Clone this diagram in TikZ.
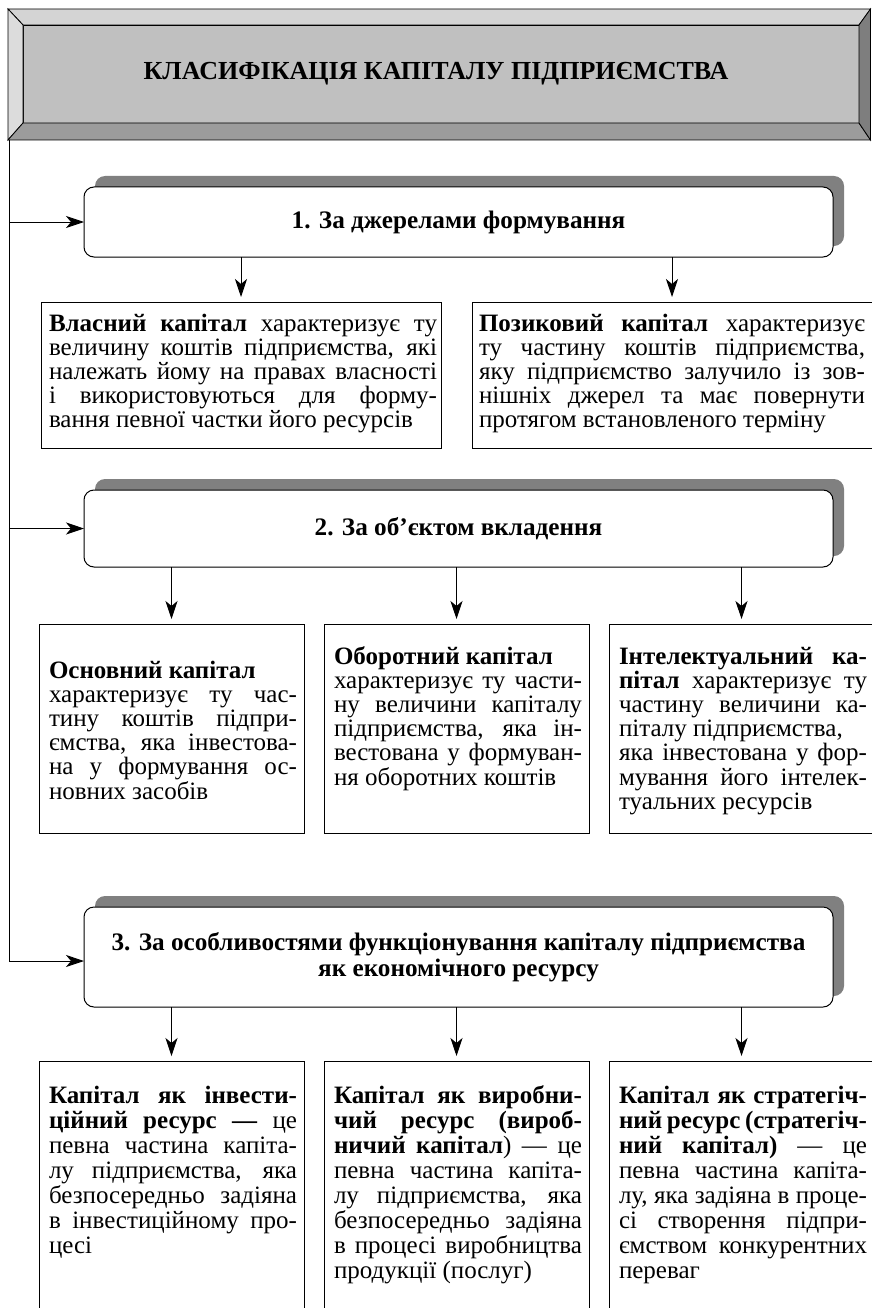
\documentclass[tikz,border=0pt]{standalone}
\usepackage{fontspec}
\setmainfont{Liberation Serif}
\usetikzlibrary{arrows.meta,shadows}
\definecolor{shgray}{HTML}{808080}
\definecolor{face}{HTML}{C0C0C0}
\definecolor{bvtop}{HTML}{D4D4D4}
\definecolor{bvleft}{HTML}{DCDCDC}
\definecolor{bvbot}{HTML}{9C9C9C}
\definecolor{bvright}{HTML}{7E7E7E}
\newcommand\jl[1]{\hbox to\hsize{#1}}
\newcommand\nl[1]{\hbox{#1}}
\newcommand\para[2]{\vtop{\hsize=#1\relax\parindent=0pt #2}}
\begin{document}
\begin{tikzpicture}[x=1pt,y=-1pt,
  box/.style={draw=black, line width=1pt, fill=white, inner sep=0pt, outer sep=0pt, anchor=north west},
  rbox/.style={draw=black, line width=1pt, fill=white, rounded corners=10pt, inner sep=0pt, outer sep=0pt,
    anchor=north west, general shadow={fill=shgray, shadow xshift=11pt, shadow yshift=11pt},
    font=\fontsize{25.2}{26}\selectfont\bfseries, align=center},
  body/.style={inner sep=0pt, outer sep=0pt, anchor=base west, font=\fontsize{25}{24.2}\selectfont},
  bodyb/.style={body, font=\fontsize{25}{25}\selectfont},
  arr/.style={line width=0.9pt, -{Stealth[length=18pt,width=12pt,inset=5pt]}},
  bev/.style={draw=black, line width=0.8pt},
]
\path[use as bounding box] (0,0) rectangle (871,1308);

% ---- title bevel box
\coordinate (onw) at (8,9);
\coordinate (one) at (870.5,9);
\coordinate (ose) at (870.5,140);
\coordinate (osw) at (8,140);
\node[draw=black, line width=0.8pt, fill=face, minimum width=836pt, minimum height=98pt,
      inner sep=0pt, outer sep=0pt, anchor=north west,
      font=\fontsize{26}{28}\selectfont\bfseries] (title) at (23,25) {\hspace*{-10pt}КЛАСИФІКАЦІЯ КАПІТАЛУ ПІДПРИЄМСТВА};
\filldraw[bev, fill=bvtop] (onw) -- (one) -- (title.north east) -- (title.north west) -- cycle;
\filldraw[bev, fill=bvleft] (onw) -- (title.north west) -- (title.south west) -- (osw) -- cycle;
\filldraw[bev, fill=bvbot] (osw) -- (title.south west) -- (title.south east) -- (ose) -- cycle;
\filldraw[bev, fill=bvright] (one) -- (ose) -- (title.south east) -- (title.north east) -- cycle;

% ---- group boxes
\node[rbox, minimum width=749pt, minimum height=70pt] (b1) at (84,187) {1. За джерелами формування};
\node[rbox, minimum width=749pt, minimum height=77pt] (b2) at (84,490) {2. За об’єктом вкладення};
\node[rbox, minimum width=749pt, minimum height=100pt] (b3) at (84,907)
  {3. За особливостями функціонування капіталу підприємства\\як економічного ресурсу};

% ---- trunk
\coordinate (trunk) at (9,140);
\coordinate (t3) at ([yshift=-4pt]b3.west);
\draw[arr] (trunk) |- (t3);
\draw[arr] (trunk |- b1.west) -- (b1.west);
\draw[arr] (trunk |- b2.west) -- (b2.west);

% ---- row 1
\node[box, minimum width=400pt, minimum height=146pt] (vl) at (41,302) {};
\node[box, minimum width=400pt, minimum height=146pt] (pk) at (472,302) {};
\draw[arr] (b1.south -| vl.north) -- ([yshift=5pt]vl.north);
\draw[arr] (b1.south -| pk.north) -- ([yshift=5pt]pk.north);

\node[body] (vlt) at (49,331) {\para{388pt}{%
\jl{\textbf{Власний капітал} характеризує ту}%
\jl{величину коштів підприємства, які}%
\jl{належать йому на правах власності}%
\jl{і використовуються для форму-}%
\nl{вання певної частки його ресурсів}}};
\node[body] (pkt) at (479,331) {\para{386pt}{%
\jl{\textbf{Позиковий капітал} характеризує}%
\jl{ту частину коштів підприємства,}%
\jl{яку підприємство залучило із зов-}%
\jl{нішніх джерел та має повернути}%
\nl{протягом встановленого терміну}}};

% ---- row 2
\node[box, minimum width=265pt, minimum height=209pt] (oc) at (39,624) {};
\node[box, minimum width=265pt, minimum height=209pt] (ob) at (324,624) {};
\node[box, minimum width=265pt, minimum height=209pt] (ik) at (609,624) {};
\draw[arr] (b2.south -| oc.north) -- ([yshift=5pt]oc.north);
\draw[arr] (b2.south -| ob.north) -- ([yshift=5pt]ob.north);
\draw[arr] (b2.south -| ik.north) -- ([yshift=5pt]ik.north);

\node[body] (oct) at (49,678) {\para{248pt}{%
\nl{\textbf{Основний капітал}}%
\jl{характеризує ту час-}%
\jl{тину коштів підпри-}%
\jl{ємства, яка інвестова-}%
\jl{на у формування ос-}%
\nl{новних засобів}}};
\node[body] (obt) at (334,664) {\para{248pt}{%
\nl{\textbf{Оборотний капітал}}%
\jl{характеризує ту части-}%
\jl{ну величини капіталу}%
\jl{підприємства, яка ін-}%
\jl{вестована у формуван-}%
\nl{ня оборотних коштів}}};
\node[body] (ikt) at (619,664) {\para{248pt}{%
\jl{\textbf{Інтелектуальний ка-}}%
\jl{\textbf{пітал} характеризує ту}%
\jl{частину величини ка-}%
\nl{піталу підприємства,}%
\jl{яка інвестована у фор-}%
\jl{мування його інтелек-}%
\nl{туальних ресурсів}}};

% ---- row 3
\node[box, minimum width=265pt, minimum height=280pt] (ir) at (39,1061) {};
\node[box, minimum width=265pt, minimum height=280pt] (vr) at (324,1061) {};
\node[box, minimum width=265pt, minimum height=280pt] (sr) at (609,1061) {};
\draw[arr] (b3.south -| ir.north) -- ([yshift=5pt]ir.north);
\draw[arr] (b3.south -| vr.north) -- ([yshift=5pt]vr.north);
\draw[arr] (b3.south -| sr.north) -- ([yshift=5pt]sr.north);

\node[bodyb] (irt) at (49,1103) {\para{248pt}{%
\jl{\textbf{Капітал як інвести-}}%
\jl{\textbf{ційний ресурс —} це}%
\jl{певна частина капіта-}%
\jl{лу підприємства, яка}%
\jl{безпосередньо задіяна}%
\jl{в інвестиційному про-}%
\nl{цесі}}};
\node[bodyb] (vrt) at (334,1103) {\para{248pt}{%
\jl{\textbf{Капітал як виробни-}}%
\jl{\textbf{чий ресурс (вироб-}}%
\jl{\textbf{ничий капітал}) — це}%
\jl{певна частина капіта-}%
\jl{лу підприємства, яка}%
\jl{безпосередньо задіяна}%
\jl{в процесі виробництва}%
\nl{продукції (послуг)}}};
\node[bodyb] (srt) at (619,1103) {\para{248pt}{%
\jl{\textbf{Капітал як стратегіч-}}%
\jl{\textbf{ний ресурс (стратегіч-}}%
\jl{\textbf{ний капітал)} — це}%
\jl{певна частина капіта-}%
\jl{лу, яка задіяна в проце-}%
\jl{сі створення підпри-}%
\jl{ємством конкурентних}%
\nl{переваг}}};
\end{tikzpicture}
\end{document}
